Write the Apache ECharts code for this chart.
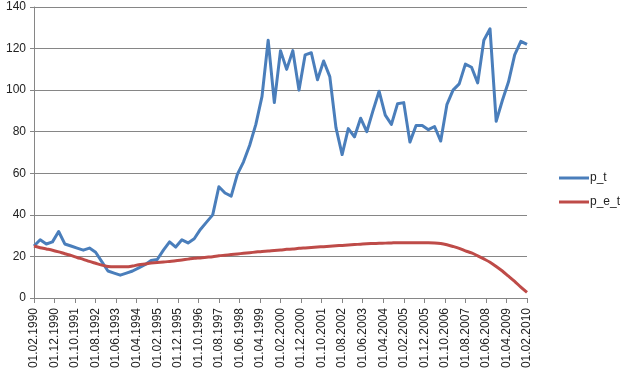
<!DOCTYPE html>
<html><head><meta charset="utf-8">
<script src="https://cdn.jsdelivr.net/npm/echarts@6/dist/echarts.min.js"></script>
<style>html,body{margin:0;padding:0;background:#fff}#c{width:639px;height:389px}</style>
</head><body><div id="c"></div>
<script>
// x tick labels (every 10 months)
const tickLabels = ["01.02.1990","01.12.1990","01.10.1991","01.08.1992","01.06.1993","01.04.1994","01.02.1995","01.12.1995","01.10.1996","01.08.1997","01.06.1998","01.04.1999","01.02.2000","01.12.2000","01.10.2001","01.08.2002","01.06.2003","01.04.2004","01.02.2005","01.12.2005","01.10.2006","01.08.2007","01.06.2008","01.04.2009","01.02.2010"];
const tickStepMonths = 10;
const dataStepMonths = 3; // quarterly observations from 01.02.1990
const p_t = [25,28,26,27,32,26,25,24,23,24,22,17.5,13,12,11,12,13,14.5,16,18,18.5,23,27,24.5,28,26.5,28.5,33,36.5,40,53.5,50.5,49,59.5,65.5,73.5,83.5,97,124,94,119,110,119,100,117,118,105,114,106.5,82,69,81.5,77.5,86.5,80,90,99.5,88,83.5,93.5,94,75,83,83,81,82.5,75.5,93,100,103,112.5,111,103.5,124,129.5,85,95,104,117,123.5,122];
const p_e_t = [25,24.2,23.6,23,22.2,21.3,20.5,19.5,18.6,17.6,16.7,15.8,15.2,15,15,15,15.4,16,16.4,16.8,17.1,17.3,17.6,17.9,18.3,18.7,19.1,19.3,19.6,19.9,20.3,20.6,20.9,21.2,21.5,21.8,22.1,22.4,22.6,22.9,23.1,23.4,23.6,23.9,24.1,24.3,24.5,24.7,24.9,25.1,25.3,25.5,25.7,25.9,26.1,26.2,26.3,26.4,26.5,26.6,26.6,26.6,26.6,26.6,26.6,26.5,26.2,25.6,24.8,23.9,22.7,21.7,20.3,18.8,17.2,15.2,13,10.5,8,5.2,2.7];
const seriesNames = ["p_t","p_e_t"];
const colors = ["#4A7EBB","#BE4B48"];

const FONT = "Liberation Sans";
const chart = echarts.init(document.getElementById('c'), null, {renderer:'canvas'});
const toXY = arr => arr.map((v,i)=>[i*dataStepMonths, v]);
chart.setOption({
  animation:false,
  backgroundColor:'#fff',
  grid:{left:34,right:112,top:7,bottom:91,containLabel:false},
  legend:{
    orient:'vertical', left:554, top:167, itemGap:12,
    itemWidth:30, itemHeight:3, icon:'rect',
    textStyle:{fontFamily:FONT,fontSize:12,color:'#222',padding:[0,0,0,-4]},
    data:seriesNames
  },
  xAxis:{
    type:'value', min:0, max:(tickLabels.length-1)*tickStepMonths, interval:tickStepMonths,
    axisLine:{show:true,onZero:false,lineStyle:{color:'#868686',width:1}},
    axisTick:{show:true,length:5,lineStyle:{color:'#868686'}},
    splitLine:{show:false},
    axisLabel:{rotate:90,margin:10,fontFamily:FONT,fontSize:12,color:'#222',
      formatter:v=>tickLabels[Math.round(v/tickStepMonths)]||''}
  },
  yAxis:{
    type:'value', min:0, max:140, interval:20,
    axisLine:{show:true,lineStyle:{color:'#868686',width:1}},
    axisTick:{show:true,length:4,lineStyle:{color:'#868686'}},
    splitLine:{show:true,lineStyle:{color:'#868686',width:1}},
    axisLabel:{margin:8,fontFamily:FONT,fontSize:12,color:'#222'}
  },
  series:[
    {name:seriesNames[0],type:'line',data:toXY(p_t),showSymbol:false,symbol:'none',
     lineStyle:{color:colors[0],width:3,join:'round'},itemStyle:{color:colors[0]}},
    {name:seriesNames[1],type:'line',data:toXY(p_e_t),showSymbol:false,symbol:'none',smooth:0.3,
     lineStyle:{color:colors[1],width:3,join:'round'},itemStyle:{color:colors[1]}}
  ]
});
</script></body></html>
